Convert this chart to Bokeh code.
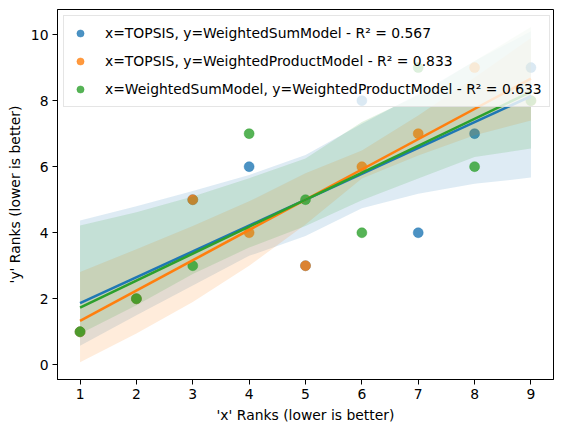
import numpy as np
from bokeh.plotting import figure
from bokeh.models import Range1d, FixedTicker, Legend, LegendItem
from bokeh.embed import file_html
from bokeh.resources import INLINE

# ---- data ----
ranks = [1, 2, 3, 4, 5, 6, 7, 8, 9]
wsm_by_topsis = [1, 2, 5, 6, 3, 8, 4, 7, 9]    # x=TOPSIS, y=WeightedSumModel
wpm_by_topsis = [1, 2, 5, 4, 3, 6, 7, 9, 8]    # x=TOPSIS, y=WeightedProductModel
wpm_by_wsm = [1, 2, 3, 7, 5, 4, 9, 6, 8]       # x=WeightedSumModel, y=WeightedProductModel

labels = [
    "x=TOPSIS, y=WeightedSumModel - R\u00b2 = 0.567",
    "x=TOPSIS, y=WeightedProductModel - R\u00b2 = 0.833",
    "x=WeightedSumModel, y=WeightedProductModel - R\u00b2 = 0.633",
]

# confidence band edges (bootstrapped in the original), read at x = 1..9
band_x = [1, 2, 3, 4, 5, 6, 7, 8, 9]
blue_hi = [4.37, 4.8, 5.26, 5.75, 6.35, 7.3, 8.2, 9.2, 10.1]
blue_lo = [0.58, 1.5, 2.4, 3.3, 3.9, 4.74, 5.18, 5.48, 5.67]
orange_hi = [2.81, 3.5, 4.2, 4.95, 5.8, 6.49, 7.55, 8.7, 9.9]
orange_lo = [0.08, 0.95, 1.9, 3.0, 4.25, 5.64, 6.34, 6.95, 7.4]
green_hi = [4.22, 4.62, 5.1, 5.65, 6.25, 7.35, 8.16, 9.2, 10.23]
green_lo = [0.94, 1.8, 2.75, 3.55, 4.2, 4.98, 5.64, 6.29, 6.55]

x_ticks = [1, 2, 3, 4, 5, 6, 7, 8, 9]
y_ticks = [0, 2, 4, 6, 8, 10]

colors = ["#1f77b4", "#ff7f0e", "#2ca02c"]
series = [
    (ranks, wsm_by_topsis, blue_lo, blue_hi),
    (ranks, wpm_by_topsis, orange_lo, orange_hi),
    (ranks, wpm_by_wsm, green_lo, green_hi),
]

FONT = "DejaVu Sans"
FS = "13.9px"

p = figure(frame_width=496, frame_height=370, output_backend="svg",
           toolbar_location=None,
           x_range=Range1d(0.6, 9.4), y_range=Range1d(-0.445, 10.76),
           min_border_left=57, min_border_right=6, min_border_top=9,
           min_border_bottom=51)

p.xgrid.visible = False
p.ygrid.visible = False
p.outline_line_color = "black"
p.outline_line_width = 1
p.background_fill_color = "white"

items = []
for (xs, ys, lo, hi), c, lab in zip(series, colors, labels):
    sc = p.scatter(xs, ys, size=10, fill_color=c, line_color=c, fill_alpha=0.8,
                   line_alpha=0.8, line_width=0.5)
    p.varea(x=band_x, y1=lo, y2=hi, fill_color=c, fill_alpha=0.15)
    items.append(LegendItem(label=lab, renderers=[sc]))

for (xs, ys, lo, hi), c in zip(series, colors):
    slope, intercept = np.polyfit(np.array(xs, float), np.array(ys, float), 1)
    gx = np.array([min(xs), max(xs)], float)
    p.line(gx, slope * gx + intercept, line_color=c, line_width=2.6)

for ax in (p.xaxis, p.yaxis):
    ax.axis_line_color = "black"
    ax.major_tick_line_color = "black"
    ax.major_tick_out = 5
    ax.major_tick_in = 0
    ax.minor_tick_line_color = None
    ax.major_label_text_font = FONT
    ax.major_label_text_font_size = FS
    ax.major_label_text_color = "black"
    ax.major_label_standoff = 4
    ax.axis_label_text_font = FONT
    ax.axis_label_text_font_size = FS
    ax.axis_label_text_font_style = "normal"
    ax.axis_label_text_color = "black"
    ax.axis_label_standoff = 5

p.xaxis.ticker = FixedTicker(ticks=x_ticks)
p.yaxis.ticker = FixedTicker(ticks=y_ticks)
p.xaxis.axis_label = "'x' Ranks (lower is better)"
p.yaxis.axis_label = "'y' Ranks (lower is better)"

legend = Legend(items=items, location="top_left")
legend.margin = 6
legend.padding = 7
legend.spacing = 8
legend.glyph_width = 18
legend.glyph_height = 20
legend.label_standoff = 16
legend.label_text_font = FONT
legend.label_text_font_size = FS
legend.label_text_color = "black"
legend.label_height = 20
legend.border_line_color = "#cccccc"
legend.border_line_width = 1
legend.background_fill_color = "white"
legend.background_fill_alpha = 0.8
p.add_layout(legend)

open("out.html", "w").write(file_html(p, INLINE))
